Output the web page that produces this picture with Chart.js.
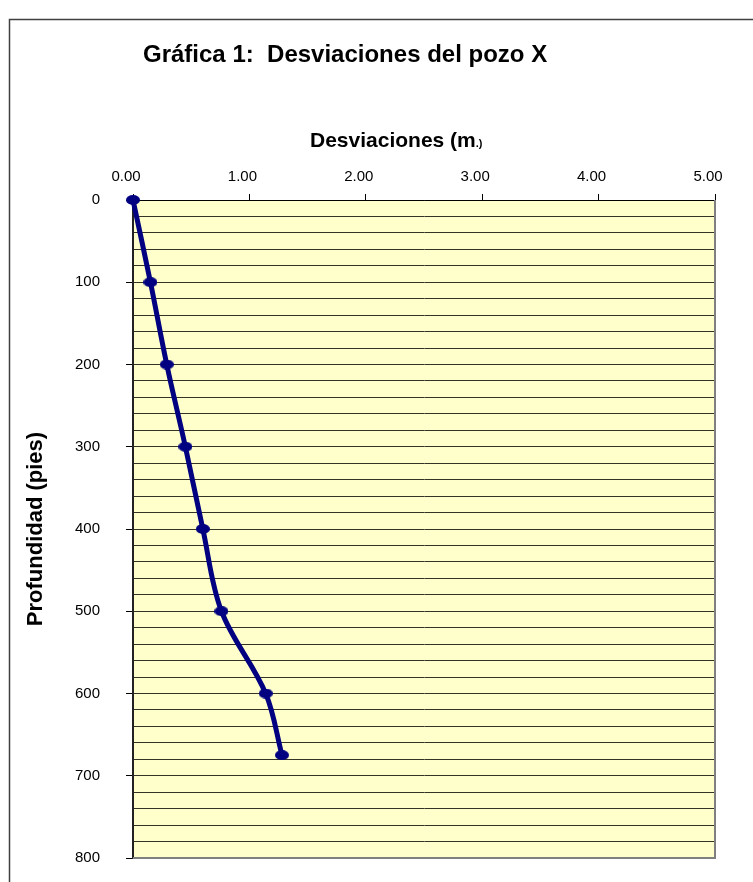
<!DOCTYPE html>
<html>
<head>
<meta charset="utf-8">
<script src="https://cdn.jsdelivr.net/npm/chart.js@4.4.1/dist/chart.umd.min.js"></script>
<style>
  html, body { margin: 0; padding: 0; background: #fff; }
  #wrap { width: 753px; height: 882px; position: relative; }
</style>
</head>
<body>
<div id="wrap"><canvas id="chart" width="753" height="882"></canvas></div>
<script>
// depth (ft) and deviation (m)
const depthFt = [0, 100, 200, 300, 400, 500, 600, 675];
const deviationM = [0.0, 0.15, 0.29, 0.45, 0.6, 0.76, 1.14, 1.28];

const chartTitle = "Gráfica 1:  Desviaciones del pozo X";
const xTitleMain = "Desviaciones (m";
const xTitleSmall = ".)";
const yTitle = "Profundidad (pies)";

const FONT = "Arial, 'Liberation Sans', sans-serif";

// ellipse marker like the Excel one
function makeMarker() {
  const c = document.createElement("canvas");
  c.width = 14;
  c.height = 10;
  const g = c.getContext("2d");
  g.fillStyle = "#000080";
  g.beginPath();
  g.ellipse(7, 5, 7, 5, 0, 0, Math.PI * 2);
  g.fill();
  return c;
}

const points = depthFt.map((d, i) => ({ x: deviationM[i], y: d }));

// background, plot area fill, frame and the hand placed titles
const decorPlugin = {
  id: "decor",
  beforeDraw(chart) {
    const { ctx, chartArea: a } = chart;
    ctx.save();
    ctx.fillStyle = "#ffffff";
    ctx.fillRect(0, 0, chart.width, chart.height);
    ctx.strokeStyle = "#404040";
    ctx.lineWidth = 1.5;
    ctx.strokeRect(9.5, 19.5, 900, 1000);
    ctx.fillStyle = "#ffffcc";
    ctx.fillRect(a.left, a.top, a.right - a.left, a.bottom - a.top);
    ctx.restore();
  },
  afterDraw(chart) {
    const { ctx, chartArea: a } = chart;
    ctx.save();
    // gray border on right and bottom of plot
    ctx.strokeStyle = "#808080";
    ctx.lineWidth = 2;
    ctx.beginPath();
    ctx.moveTo(a.right, a.top);
    ctx.lineTo(a.right, a.bottom);
    ctx.lineTo(a.left, a.bottom);
    ctx.stroke();

    ctx.fillStyle = "#000";
    ctx.textBaseline = "alphabetic";
    ctx.textAlign = "left";
    ctx.font = "bold 24px " + FONT;
    ctx.fillText(chartTitle, 143, 62);

    ctx.font = "bold 21px " + FONT;
    const w1 = ctx.measureText(xTitleMain).width;
    ctx.fillText(xTitleMain, 310, 147);
    ctx.font = "bold 11px " + FONT;
    ctx.fillText(xTitleSmall, 310 + w1, 147);
    ctx.restore();
  }
};

new Chart(document.getElementById("chart"), {
  type: "scatter",
  data: {
    datasets: [
      {
        data: points,
        showLine: true,
        borderColor: "#000080",
        borderWidth: 5,
        tension: 0.35,
        pointStyle: makeMarker(),
        pointRadius: 6,
        clip: false
      }
    ]
  },
  options: {
    responsive: false,
    animation: false,
    layout: { padding: { left: 20, right: 38, top: 160, bottom: 24 } },
    plugins: {
      legend: { display: false },
      tooltip: { enabled: false }
    },
    scales: {
      x: {
        position: "top",
        min: 0,
        max: 5,
        afterFit: (s) => { s.height = 40; },
        ticks: {
          stepSize: 1,
          color: "#000",
          padding: 8,
          labelOffset: -7,
          maxRotation: 0,
          font: { family: FONT, size: 15 },
          callback: (v) => Number(v).toFixed(2)
        },
        grid: { drawOnChartArea: false, tickLength: 6, tickColor: "#000" },
        border: { color: "#000", width: 1 }
      },
      y: {
        reverse: true,
        min: 0,
        max: 800,
        afterFit: (s) => {
          s.width = 113;
          s.paddingTop = 0;
          s.paddingBottom = 0;
        },
        ticks: {
          stepSize: 20,
          autoSkip: false,
          color: "#000",
          padding: 26,
          font: { family: FONT, size: 15 },
          callback: (v) => (v % 100 === 0 ? String(v) : "")
        },
        grid: {
          color: "#333326",
          lineWidth: 1,
          tickLength: 7,
          tickColor: (c) => (c.tick && c.tick.value % 100 === 0 ? "#000" : "rgba(0,0,0,0)")
        },
        border: { color: "#222", width: 2 },
        title: {
          display: true,
          text: yTitle,
          color: "#000",
          font: { family: FONT, size: 22, weight: "bold" },
          padding: { top: 3, bottom: 0 }
        }
      }
    }
  },
  plugins: [decorPlugin]
});
</script>
</body>
</html>
